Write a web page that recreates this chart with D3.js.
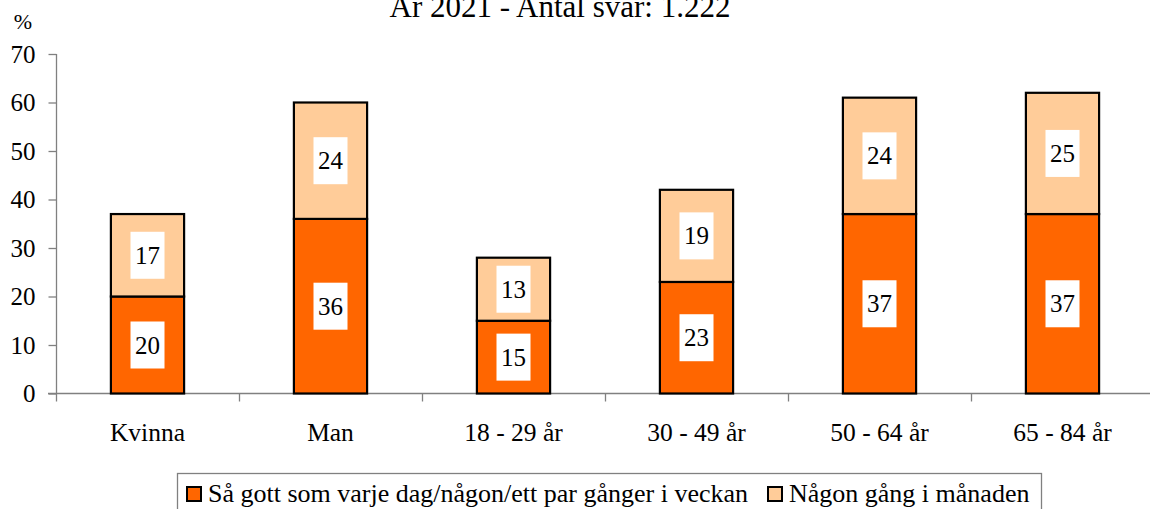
<!DOCTYPE html>
<html><head><meta charset="utf-8">
<script src="https://cdn.jsdelivr.net/npm/d3@7"></script>
<style>
html,body{margin:0;padding:0;background:#fff;overflow:hidden}
svg{display:block}
</style></head><body>
<svg id="c" width="1150" height="509"></svg>
<script>
const title = "År 2021 - Antal svar: 1.222";
const categories = ["Kvinna","Man","18 - 29 år","30 - 49 år","50 - 64 år","65 - 84 år"];
const seriesNames = ["Så gott som varje dag/någon/ett par gånger i veckan","Någon gång i månaden"];
const daily = [20,36,15,23,37,37];
const monthly = [17,24,13,19,24,25];
const yTicks = [0,10,20,30,40,50,60,70];
const colors = ["#FF6600","#FFCC99"];
const FONT = "'Liberation Serif'";

const svg = d3.select("#c");
const x = d3.scaleBand().domain(categories).range([56,1154]).paddingInner(0.6).paddingOuter(0.3);
const xb = d3.scaleBand().domain(categories).range([56,1154]);
const y = d3.scaleLinear().domain([0,70]).range([393.5,54]);

svg.append("text").attr("x",560).attr("y",17).attr("text-anchor","middle")
  .style("font-family",FONT).style("font-size","31px").text(title);
svg.append("text").attr("x",23).attr("y",29).attr("text-anchor","middle")
  .style("font-family",FONT).style("font-size","22px").text("%");

const ya = svg.append("g").attr("transform","translate(56.5,0)")
  .call(d3.axisLeft(y).tickValues(yTicks).tickSize(8).tickPadding(13));
ya.selectAll("path,line").attr("stroke","#808080").attr("stroke-width",1.3);
ya.attr("font-family",null).attr("font-size",null);
ya.selectAll("text").style("font-family",FONT).style("font-size","25px").attr("fill","#000");
ya.select(".domain").attr("d","M0,"+y(70)+"V"+y(0));

const xa = svg.append("g").attr("transform","translate(0,"+y(0)+")");
xa.append("line").attr("x1",48).attr("x2",1150).attr("y1",0).attr("y2",0)
  .attr("stroke","#808080").attr("stroke-width",1.3);
xa.selectAll("line.t").data(categories).join("line").attr("class","t")
  .attr("x1",d=>xb(d)+0.5).attr("x2",d=>xb(d)+0.5).attr("y1",0).attr("y2",8)
  .attr("stroke","#808080").attr("stroke-width",1.3);
xa.selectAll("text").data(categories).join("text")
  .attr("x",d=>xb(d)+xb.bandwidth()/2).attr("y",47).attr("text-anchor","middle")
  .style("font-family",FONT).style("font-size","25.5px").text(d=>d);

const rows = categories.map((c,i)=>({cat:c, a:daily[i], b:monthly[i]}));
const stack = d3.stack().keys(["a","b"])(rows);
const g = svg.append("g");
stack.forEach((layer,li)=>{
  g.selectAll(null).data(layer).join("rect")
    .attr("x",d=>x(d.data.cat)).attr("width",x.bandwidth())
    .attr("y",d=>y(d[1])).attr("height",d=>y(d[0])-y(d[1]))
    .attr("fill",colors[li]).attr("stroke","#000").attr("stroke-width",2.2);
});
stack.forEach((layer,li)=>{
  const lg = g.selectAll(null).data(layer).join("g")
    .attr("transform",d=>"translate("+(x(d.data.cat)+x.bandwidth()/2)+","+y((d[0]+d[1])/2)+")");
  lg.append("rect").attr("x",-17).attr("y",-23.5).attr("width",34).attr("height",47).attr("fill","#fff");
  lg.append("text").attr("text-anchor","middle").attr("y",8.5)
    .style("font-family",FONT).style("font-size","25px").text(d=>d[1]-d[0]);
});

const leg = svg.append("g");
leg.append("rect").attr("x",177.5).attr("y",473.5).attr("width",864).attr("height",60)
  .attr("fill","#fff").attr("stroke","#808080").attr("stroke-width",1.3);
const lx = [187,768];
seriesNames.forEach((n,i)=>{
  leg.append("rect").attr("x",lx[i]).attr("y",487).attr("width",14).attr("height",14)
    .attr("fill",colors[i]).attr("stroke","#000").attr("stroke-width",2);
  leg.append("text").attr("x",lx[i]+21).attr("y",502)
    .style("font-family",FONT).style("font-size","26px").text(n);
});
</script></body></html>
